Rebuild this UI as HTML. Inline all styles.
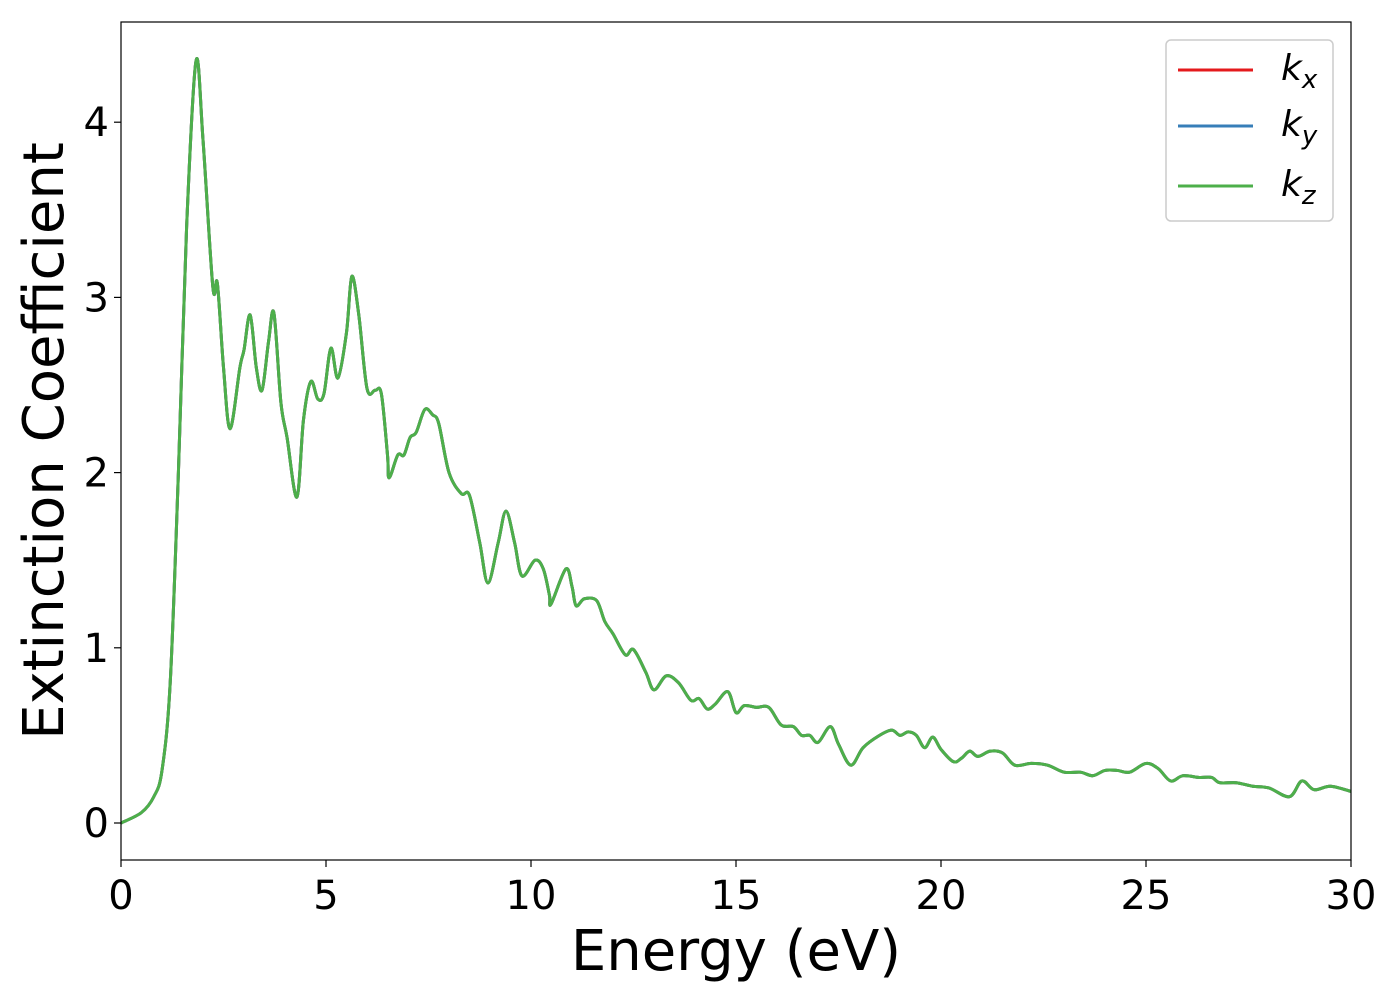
<!DOCTYPE html>
<html><head><meta charset="utf-8"><style>
body{margin:0;background:#fff;}
svg text{font-family:"DejaVu Sans","Liberation Sans",sans-serif;}
</style></head><body>
<svg id="svg" width="1400" height="1000" viewBox="0 0 1400 1000">
<g id="plot"></g>
</svg>
<script>
const energies=[0,0.5,0.8,1.0,1.2,1.4,1.6,1.83,2.0,2.24,2.35,2.5,2.66,2.9,3.0,3.15,3.3,3.44,3.6,3.73,3.9,4.05,4.29,4.45,4.63,4.8,4.95,5.12,5.29,5.5,5.63,5.8,6.0,6.2,6.35,6.5,6.54,6.75,6.9,7.05,7.2,7.41,7.6,7.75,8.0,8.3,8.5,8.75,8.95,9.2,9.39,9.6,9.78,10.1,10.3,10.45,10.49,10.85,11.0,11.1,11.3,11.6,11.8,12.0,12.3,12.5,12.8,13.0,13.3,13.6,13.9,14.1,14.3,14.5,14.8,15.0,15.2,15.5,15.8,16.1,16.4,16.6,16.8,17.0,17.3,17.5,17.8,18.1,18.5,18.8,19.0,19.2,19.4,19.6,19.8,20.0,20.3,20.5,20.7,20.9,21.2,21.5,21.8,22.2,22.6,23.0,23.4,23.7,24.0,24.3,24.6,25.0,25.3,25.6,25.9,26.3,26.6,26.8,27.2,27.6,28.0,28.5,28.8,29.1,29.5,30];
const kValues=[0,0.06,0.15,0.3,0.8,2.0,3.4,4.35,3.9,3.06,3.08,2.6,2.25,2.6,2.7,2.9,2.6,2.47,2.75,2.91,2.4,2.2,1.86,2.3,2.52,2.42,2.45,2.71,2.54,2.8,3.12,2.9,2.48,2.47,2.45,2.1,1.97,2.1,2.1,2.2,2.23,2.36,2.33,2.28,2.0,1.88,1.87,1.6,1.37,1.6,1.78,1.6,1.41,1.5,1.45,1.3,1.25,1.45,1.35,1.24,1.28,1.27,1.15,1.08,0.96,0.99,0.86,0.76,0.84,0.8,0.7,0.71,0.65,0.68,0.75,0.63,0.67,0.66,0.66,0.56,0.55,0.5,0.5,0.46,0.55,0.45,0.33,0.43,0.5,0.53,0.5,0.52,0.5,0.43,0.49,0.42,0.35,0.37,0.41,0.38,0.41,0.4,0.33,0.34,0.33,0.29,0.29,0.27,0.3,0.3,0.29,0.34,0.31,0.24,0.27,0.26,0.26,0.23,0.23,0.21,0.2,0.15,0.24,0.19,0.21,0.18];
const xTicks=[0,5,10,15,20,25,30];
const yTicks=[0,1,2,3,4];
const seriesNames=["kx","ky","kz"];
const seriesColors=["#e41a1c","#377eb8","#4daf4a"];
const subs=["x","y","z"];

const X0=121,X1=1351,Ytop=22,Ybot=860;
const xs=v=>X0+(v-0)/30*(X1-X0);
const ys=v=>823-v*175.2;
const NS="http://www.w3.org/2000/svg";
const g=document.getElementById('plot');
function mk(t,a){const e=document.createElementNS(NS,t);for(const k in a)e.setAttribute(k,a[k]);return e;}

const defs=mk('defs',{});const cp=mk('clipPath',{id:'c'});cp.appendChild(mk('rect',{x:X0,y:Ytop,width:X1-X0,height:Ybot-Ytop}));defs.appendChild(cp);g.appendChild(defs);

function pathD(){
  const p=energies.map((e,i)=>[xs(e),ys(kValues[i])]);
  let d='M'+p[0][0]+','+p[0][1];
  for(let i=0;i<p.length-1;i++){
    const p0=p[Math.max(0,i-1)],p1=p[i],p2=p[i+1],p3=p[Math.min(p.length-1,i+2)];
    const c1=[p1[0]+(p2[0]-p0[0])/6,p1[1]+(p2[1]-p0[1])/6];
    const c2=[p2[0]-(p3[0]-p1[0])/6,p2[1]-(p3[1]-p1[1])/6];
    d+=`C${c1[0]},${c1[1]} ${c2[0]},${c2[1]} ${p2[0]},${p2[1]}`;
  }
  return d;
}
const d=pathD();
seriesNames.forEach((n,i)=>{
  const l=mk('path',{d:d,fill:'none',stroke:seriesColors[i],'stroke-width':3,'clip-path':'url(#c)'});
  
  
  g.appendChild(l);
});

const frame=mk('rect',{x:X0,y:Ytop,width:X1-X0,height:Ybot-Ytop,fill:'none',stroke:'#000','stroke-width':1.2});


g.appendChild(frame);

xTicks.forEach(v=>{
  g.appendChild(mk('line',{x1:xs(v),x2:xs(v),y1:Ybot,y2:Ybot+7,stroke:'#000','stroke-width':1.2}));
  const t=mk('text',{x:xs(v),y:Ybot+49,'text-anchor':'middle','font-size':40});
  t.textContent=v;
  
  
  g.appendChild(t);
});
yTicks.forEach(v=>{
  g.appendChild(mk('line',{x1:X0-7,x2:X0,y1:ys(v),y2:ys(v),stroke:'#000','stroke-width':1.2}));
  const t=mk('text',{x:X0-12,y:ys(v)+14,'text-anchor':'end','font-size':40});
  t.textContent=v;
  
  
  g.appendChild(t);
});

const xl=mk('text',{x:736,y:970,'text-anchor':'middle','font-size':56});
xl.textContent='Energy (eV)';


g.appendChild(xl);
const yl=mk('text',{x:0,y:0,'text-anchor':'middle','font-size':56,transform:'translate(63,441) rotate(-90)'});
yl.textContent='Extinction Coefficient';


g.appendChild(yl);

const lb=mk('rect',{x:1166,y:40,width:167,height:181,rx:5,fill:'#fff',stroke:'#ccc','stroke-width':1.5});


g.appendChild(lb);
const ly=[70,126,186];
seriesNames.forEach((n,i)=>{
  const l=mk('line',{x1:1178,x2:1253,y1:ly[i],y2:ly[i],stroke:seriesColors[i],'stroke-width':3});
  
  
  g.appendChild(l);
  const t=mk('text',{x:1281,y:ly[i]+10,'font-size':36,'font-style':'italic'});
  
  
  t.appendChild(document.createTextNode('k'));
  const s=mk('tspan',{'font-size':26,dy:8});s.textContent=subs[i];t.appendChild(s);
  g.appendChild(t);
});
</script>
</body></html>
